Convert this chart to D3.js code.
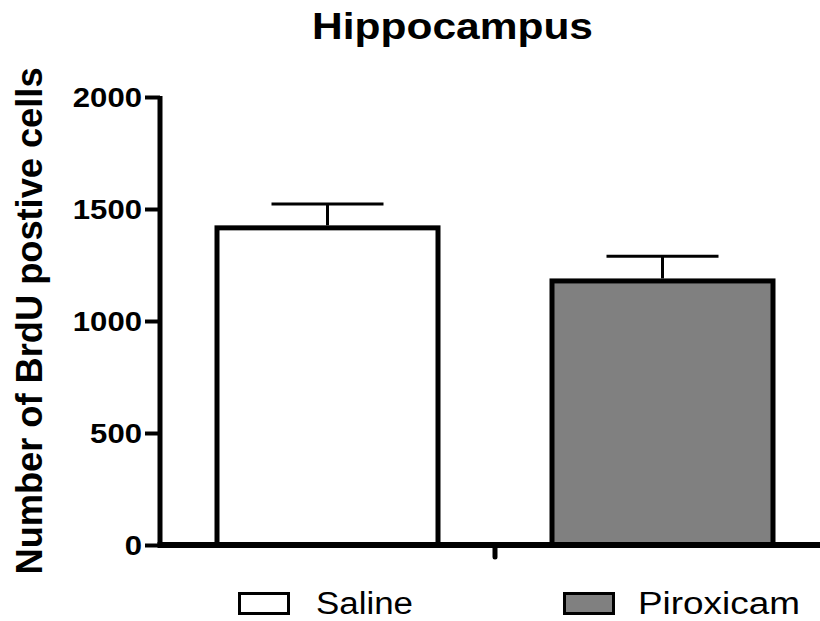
<html>
    <head>
        <style>
            body { margin: 0; background: white; }
            svg { display: block; font-family: "Liberation Sans", Arial, sans-serif; }
            .axis path, .axis line { stroke: black; }
        </style>
    </head>
    <body>
        <svg width="820" height="621"></svg>
    </body>
    <script src="https://d3js.org/d3.v7.min.js"></script>
    <script>
        // values
        var groups = ["Saline", "Piroxicam"];
        var means = [1427, 1190];
        var sems = [95, 99];
        var fills = ["white", "#808080"];
        var yTicks = [0, 500, 1000, 1500, 2000];

        var svg = d3.select("svg");

        var yScale = d3.scaleLinear().domain([0, 2000]).range([545, 97]);
        var xScale = d3.scaleBand().domain(groups).range([160, 830]);

        var barW = 221;

        // title
        svg.append("text")
            .attr("x", 312).attr("y", 39)
            .attr("font-size", 37).attr("font-weight", "bold")
            .attr("textLength", 281).attr("lengthAdjust", "spacingAndGlyphs")
            .text("Hippocampus");

        // y label
        svg.append("text")
            .attr("transform", "translate(42,321) rotate(-90)")
            .attr("text-anchor", "middle")
            .attr("font-size", 36).attr("font-weight", "bold")
            .attr("textLength", 507).attr("lengthAdjust", "spacingAndGlyphs")
            .text("Number of BrdU postive cells");

        // bars
        var data = groups.map(function(g, i) {
            return { name: g, mean: means[i], sem: sems[i], fill: fills[i] };
        });

        var bars = svg.append("g");
        bars.selectAll("rect").data(data).enter().append("rect")
            .attr("x", function(d) { return xScale(d.name) + xScale.bandwidth() / 2 - barW / 2; })
            .attr("y", function(d) { return yScale(d.mean) + 2.5; })
            .attr("width", barW)
            .attr("height", function(d) { return yScale(0) - yScale(d.mean) - 2.5; })
            .attr("fill", function(d) { return d.fill; })
            .attr("stroke", "black").attr("stroke-width", 5);

        // error bars
        var err = svg.append("g").attr("stroke", "black").attr("stroke-width", 3);
        err.selectAll(".stem").data(data).enter().append("line")
            .attr("x1", function(d) { return xScale(d.name) + xScale.bandwidth() / 2; })
            .attr("x2", function(d) { return xScale(d.name) + xScale.bandwidth() / 2; })
            .attr("y1", function(d) { return yScale(d.mean); })
            .attr("y2", function(d) { return yScale(d.mean + d.sem); });
        err.selectAll(".cap").data(data).enter().append("line")
            .attr("x1", function(d) { return xScale(d.name) + xScale.bandwidth() / 2 - 56; })
            .attr("x2", function(d) { return xScale(d.name) + xScale.bandwidth() / 2 + 56; })
            .attr("y1", function(d) { return yScale(d.mean + d.sem); })
            .attr("y2", function(d) { return yScale(d.mean + d.sem); });

        // y axis
        var yAxis = d3.axisLeft(yScale).tickValues(yTicks).tickFormat(d3.format("d"))
            .tickSize(15).tickPadding(3).tickSizeOuter(0);
        var gy = svg.append("g").attr("class", "axis")
            .attr("transform", "translate(160,0)")
            .call(yAxis);
        gy.select(".domain").attr("stroke-width", 5)
            .attr("d", "M0," + (yScale(2000) - 1) + "V" + (yScale(0) + 2));
        gy.selectAll(".tick line").attr("stroke-width", 4);
        gy.selectAll(".tick text")
            .attr("font-size", 27).attr("font-weight", "bold").attr("fill", "black")
            .attr("dy", "0.36em")
            .attr("textLength", function(d) { return String(d).length * 17.3; })
            .attr("lengthAdjust", "spacingAndGlyphs");

        // x axis
        svg.append("line")
            .attr("x1", 157.5).attr("x2", 820)
            .attr("y1", yScale(0)).attr("y2", yScale(0))
            .attr("stroke", "black").attr("stroke-width", 6);
        svg.append("line")
            .attr("x1", xScale("Piroxicam")).attr("x2", xScale("Piroxicam"))
            .attr("y1", yScale(0)).attr("y2", yScale(0) + 12)
            .attr("stroke", "black").attr("stroke-width", 5)
            .attr("stroke-linecap", "round");

        // legend
        var legX = [238, 563], legTextX = [316, 638], legTextW = [97, 162];
        var leg = svg.append("g");
        leg.selectAll("rect").data(data).enter().append("rect")
            .attr("x", function(d, i) { return legX[i] + 1.5; })
            .attr("y", 593.5)
            .attr("width", 49).attr("height", 20)
            .attr("fill", function(d) { return d.fill; })
            .attr("stroke", "black").attr("stroke-width", 3);
        leg.selectAll("text").data(data).enter().append("text")
            .attr("x", function(d, i) { return legTextX[i]; })
            .attr("y", 614)
            .attr("font-size", 31)
            .attr("textLength", function(d, i) { return legTextW[i]; })
            .attr("lengthAdjust", "spacingAndGlyphs")
            .text(function(d) { return d.name; });
    </script>
</html>
